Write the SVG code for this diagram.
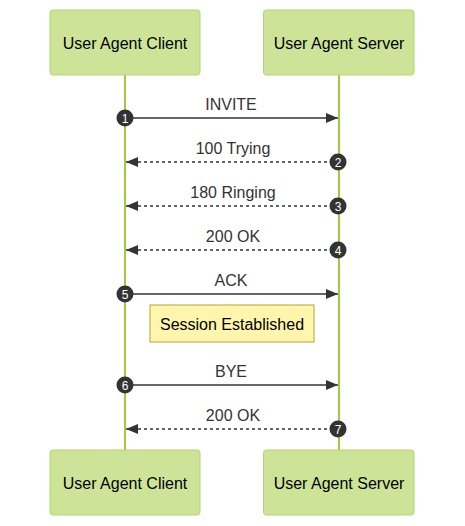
<svg xmlns="http://www.w3.org/2000/svg" width="465" height="526" viewBox="0 0 465 526">
<style>
.actor{fill:#cde498;stroke:#b3d66e;stroke-width:1}
.atext{font-family:"Liberation Sans",Arial,sans-serif;font-size:16px;fill:#000;text-anchor:middle;dominant-baseline:central}
.life{stroke:#9ecb3f;stroke-width:2}
.msg{stroke:#333;stroke-width:1.5;fill:none}
.dash{stroke-dasharray:3,3}
.mtext{font-family:"Liberation Sans",Arial,sans-serif;font-size:16px;fill:#333;text-anchor:middle}
.num{fill:#333}
.ntext{font-family:"Liberation Sans",Arial,sans-serif;font-size:12px;fill:#fff;text-anchor:middle;dominant-baseline:central}
.note{fill:#fff5ad;stroke:#aaaa33;stroke-width:1}
</style>
<defs>
<marker id="ah" viewBox="0 0 12 10" refX="12" refY="5" markerWidth="12" markerHeight="10" markerUnits="userSpaceOnUse" orient="auto">
<path d="M0,0 L12,5 L0,10 z" fill="#333"/>
</marker>
</defs>
<rect width="465" height="526" fill="#fff"/>
<g id="lifelines">
<line class="life" x1="125" y1="75" x2="125" y2="450"/>
<line class="life" x1="339" y1="75" x2="339" y2="450"/>
</g>
<g id="uac-top"><rect class="actor" x="50" y="10" width="150" height="65" rx="3"/><text class="atext" x="125" y="43">User Agent Client</text></g>
<g id="uas-top"><rect class="actor" x="263.5" y="10" width="150.5" height="65" rx="3"/><text class="atext" x="339" y="43">User Agent Server</text></g>
<g id="uac-bottom"><rect class="actor" x="50" y="450" width="150" height="65" rx="3"/><text class="atext" x="125" y="483">User Agent Client</text></g>
<g id="uas-bottom"><rect class="actor" x="263.5" y="450" width="150.5" height="65" rx="3"/><text class="atext" x="339" y="483">User Agent Server</text></g>
<g id="note"><rect class="note" x="150" y="305" width="164" height="37"/><text class="atext" x="232" y="324">Session Established</text></g>
<g id="connectors">
<line class="msg" x1="125" y1="118" x2="338" y2="118" marker-end="url(#ah)"/>
<text class="mtext" x="231" y="110">INVITE</text>
<line class="msg dash" x1="339" y1="162" x2="126" y2="162" marker-end="url(#ah)"/>
<text class="mtext" x="233" y="154">100 Trying</text>
<line class="msg dash" x1="339" y1="206" x2="126" y2="206" marker-end="url(#ah)"/>
<text class="mtext" x="233" y="198">180 Ringing</text>
<line class="msg dash" x1="339" y1="250" x2="126" y2="250" marker-end="url(#ah)"/>
<text class="mtext" x="233" y="242">200 OK</text>
<line class="msg" x1="125" y1="294" x2="338" y2="294" marker-end="url(#ah)"/>
<text class="mtext" x="231" y="286">ACK</text>
<line class="msg" x1="125" y1="385" x2="338" y2="385" marker-end="url(#ah)"/>
<text class="mtext" x="231" y="377">BYE</text>
<line class="msg dash" x1="339" y1="429" x2="126" y2="429" marker-end="url(#ah)"/>
<text class="mtext" x="233" y="421">200 OK</text>
</g>
<g id="sequence-numbers">
<circle class="num" cx="125" cy="118" r="8.5"/><text class="ntext" x="125" y="119">1</text>
<circle class="num" cx="338" cy="162" r="8.5"/><text class="ntext" x="338" y="163">2</text>
<circle class="num" cx="338" cy="206" r="8.5"/><text class="ntext" x="338" y="207">3</text>
<circle class="num" cx="338" cy="250" r="8.5"/><text class="ntext" x="338" y="251">4</text>
<circle class="num" cx="125" cy="294" r="8.5"/><text class="ntext" x="125" y="295">5</text>
<circle class="num" cx="125" cy="385" r="8.5"/><text class="ntext" x="125" y="386">6</text>
<circle class="num" cx="338" cy="429" r="8.5"/><text class="ntext" x="338" y="430">7</text>
</g>
</svg>
